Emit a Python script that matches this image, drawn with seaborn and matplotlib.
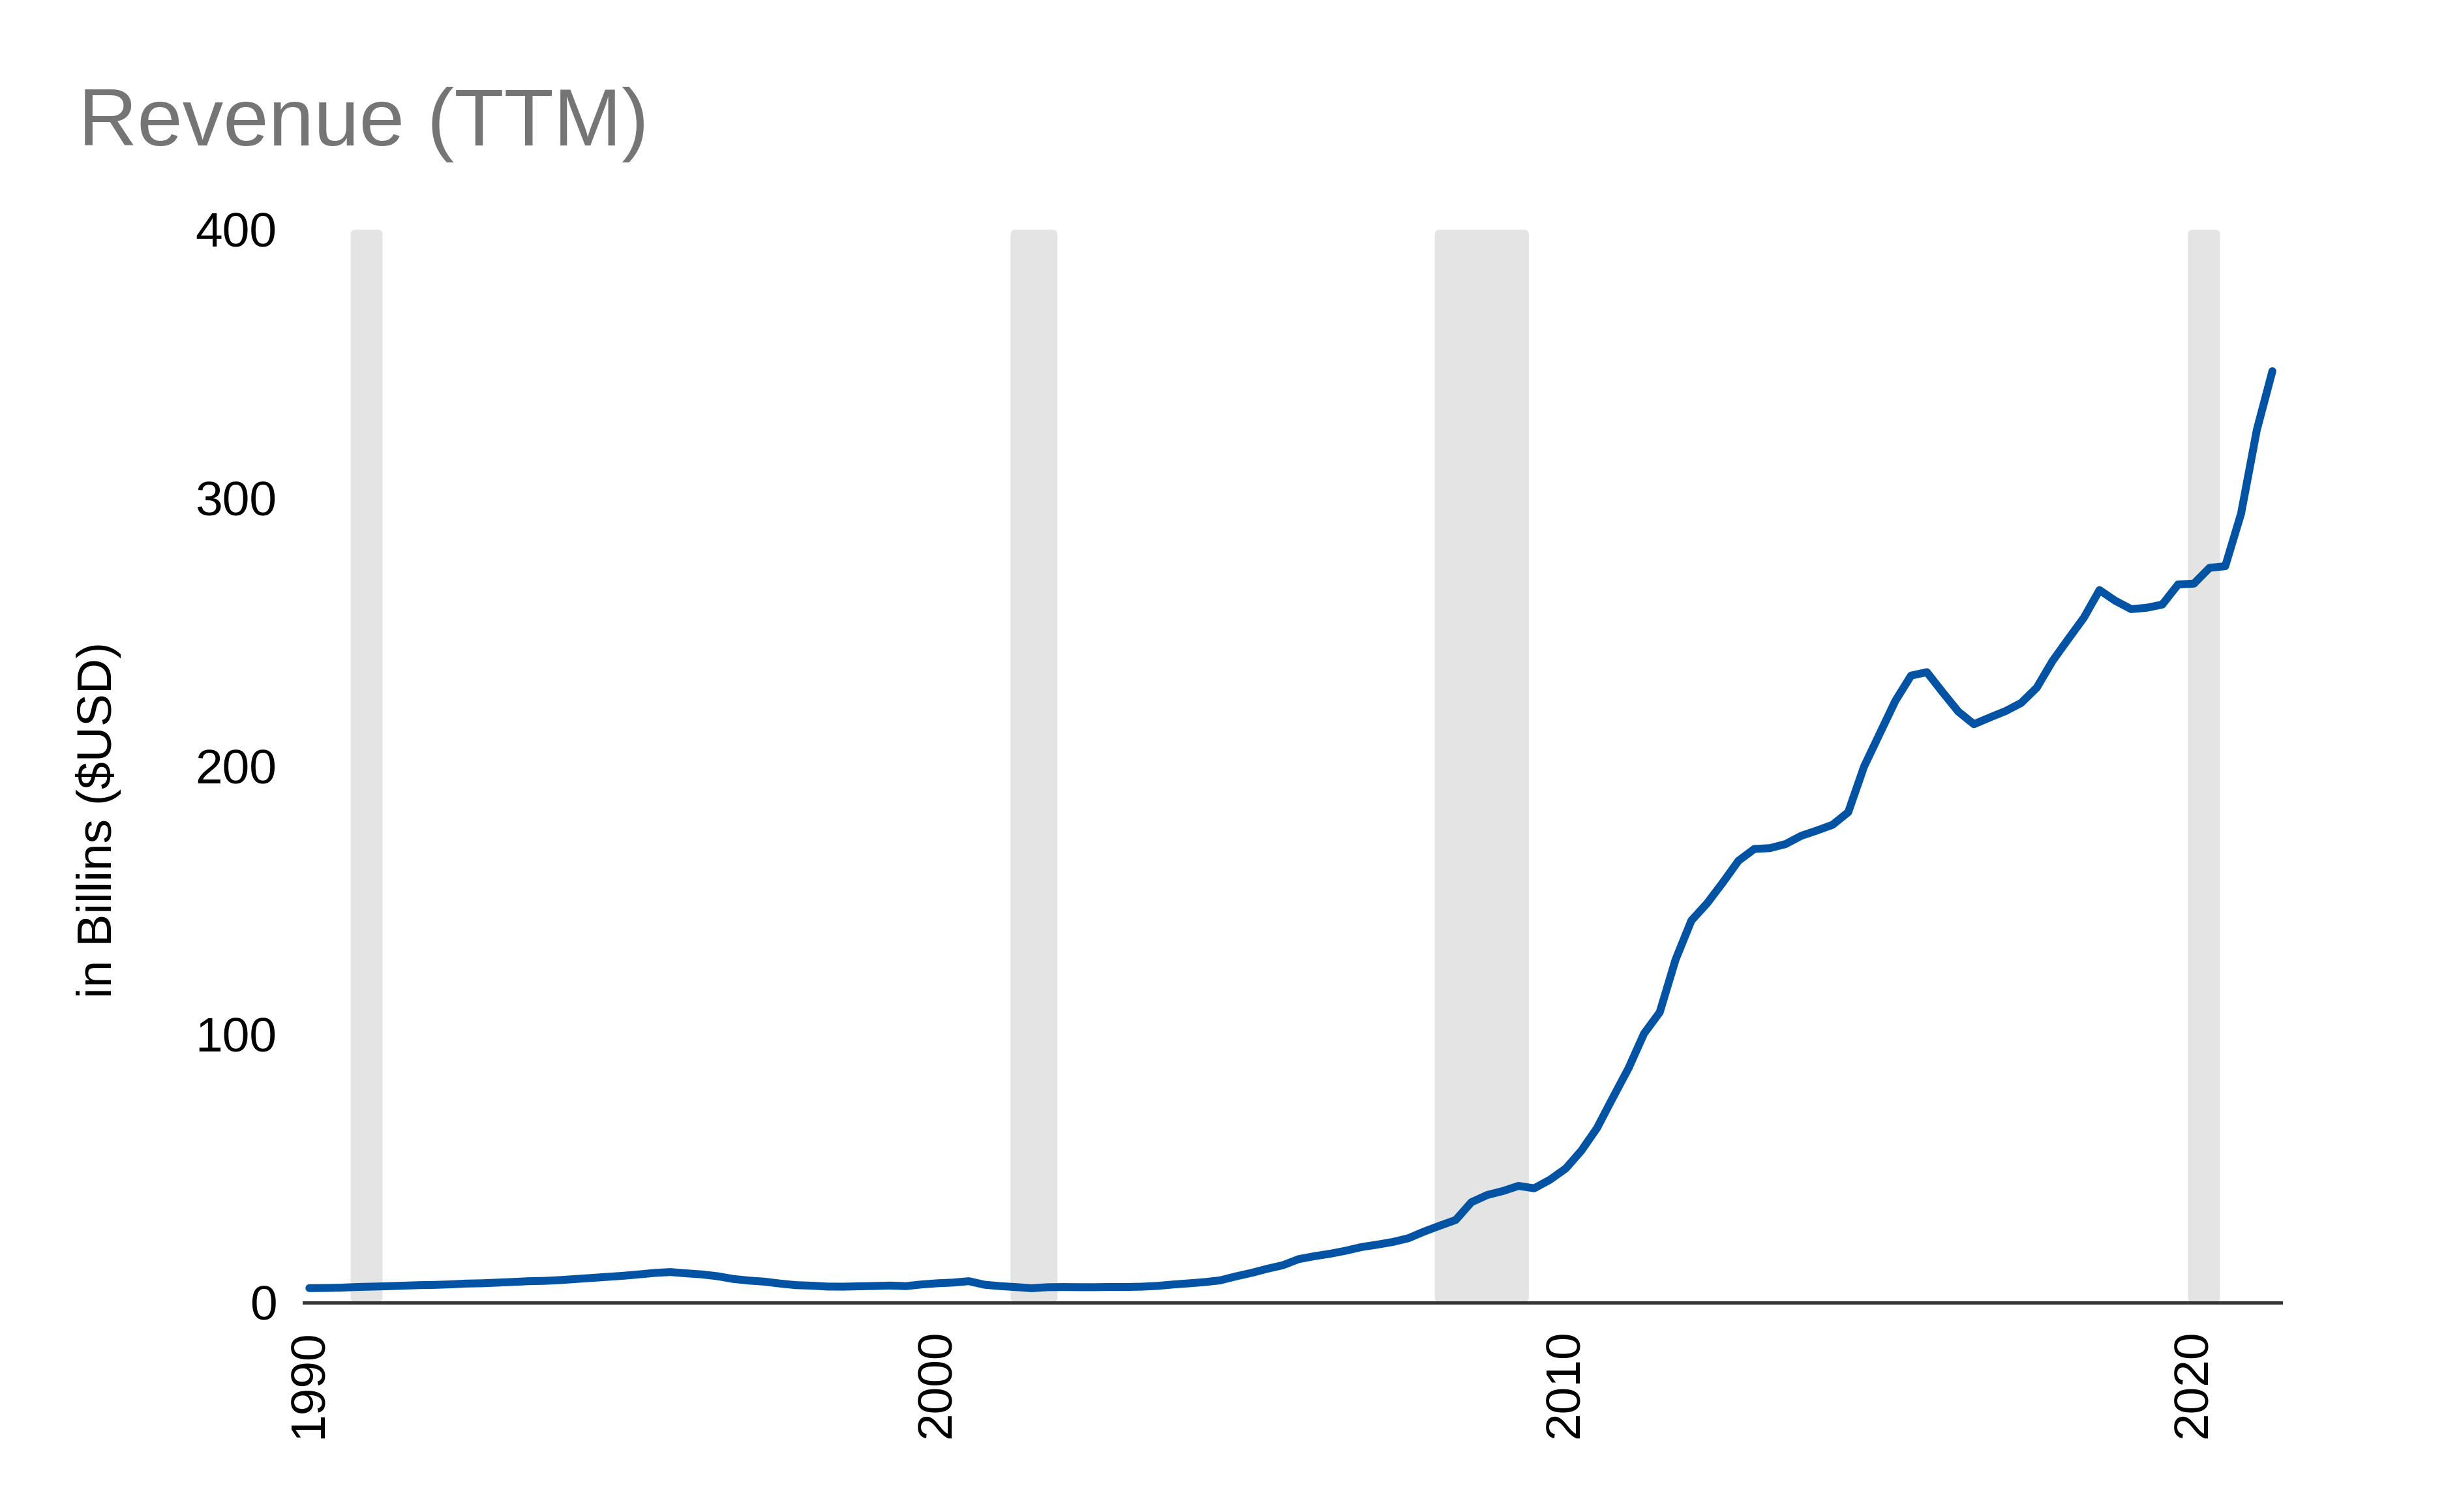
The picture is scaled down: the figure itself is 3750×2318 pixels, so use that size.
import pandas as pd
import numpy as np
import matplotlib.pyplot as plt
import seaborn as sns
from matplotlib.patches import FancyBboxPatch
import matplotlib.dates as mdates

# Revenue TTM (billions USD), one value per quarter starting 1990-01
revenue = [
    5.4, 5.45, 5.56, 5.8,        # 1990
    5.95, 6.1, 6.31, 6.5,        # 1991
    6.6, 6.8, 7.09, 7.2,         # 1992
    7.45, 7.7, 7.98, 8.1,        # 1993
    8.4, 8.8, 9.19, 9.6,         # 1994
    10.0, 10.5, 11.06, 11.38,    # 1995
    10.9, 10.5, 9.83, 8.8,       # 1996
    8.2, 7.8, 7.08, 6.5,         # 1997
    6.3, 5.97, 5.94, 6.07,       # 1998
    6.19, 6.35, 6.13, 6.77,      # 1999
    7.2, 7.46, 7.98, 6.65,       # 2000
    6.13, 5.78, 5.36, 5.73,      # 2001
    5.8, 5.75, 5.74, 5.83,       # 2002
    5.81, 5.93, 6.21, 6.74,      # 2003
    7.17, 7.63, 8.28, 9.77,      # 2004
    11.1, 12.6, 13.93, 16.2,     # 2005
    17.3, 18.2, 19.32, 20.7,     # 2006
    21.6, 22.6, 24.0, 26.5,      # 2007
    28.7, 30.8, 37.4, 40.1,      # 2008
    41.6, 43.5, 42.6, 45.8,      # 2009
    50.0, 56.6, 65.0, 76.3,      # 2010
    87.4, 100.3, 108.2, 127.8,   # 2011
    142.4, 148.8, 156.5, 164.7,  # 2012
    169.1, 169.4, 170.9, 174.0,  # 2013
    176.0, 178.1, 182.8, 199.8,  # 2014
    212.2, 224.3, 233.7, 235.0,  # 2015
    227.5, 220.3, 215.6, 218.1,  # 2016
    220.5, 223.5, 229.2, 239.2,  # 2017
    247.4, 255.3, 265.6, 261.6,  # 2018
    258.5, 259.0, 260.2, 267.7,  # 2019
    268.0, 273.9, 274.5, 294.1,  # 2020
    325.4, 347.2,                # 2021
]
dates = pd.date_range('1990-01-01', periods=len(revenue), freq='QS')

recession_start = ['1990-08-29', '2001-03-01', '2007-12-01', '2019-11-27']
recession_end = ['1991-03-02', '2001-11-28', '2009-05-31', '2020-06-01']

year_ticks = ['1990', '2000', '2010', '2020']

df = pd.DataFrame({'date': dates, 'revenue': revenue})

sns.set_theme(style='white')
plt.rcParams['font.family'] = ['Liberation Sans', 'DejaVu Sans']

fig = plt.figure(figsize=(12.5, 3750 / 300 * 2318 / 3750), dpi=300)
ax = fig.add_axes([0.1243, 0.1385, 0.8083, 0.7097])

ymax = 400
# recession bands with rounded corners
x_per_px = (mdates.date2num(pd.Timestamp('2021-05-22')) - mdates.date2num(pd.Timestamp('1989-12-01'))) / 3031
y_per_px = ymax / 1645
for s, e in zip(recession_start, recession_end):
    x0 = mdates.date2num(pd.Timestamp(s))
    x1 = mdates.date2num(pd.Timestamp(e))
    band = FancyBboxPatch((x0, 0), x1 - x0, ymax,
                          boxstyle=f'round,pad=0,rounding_size={8 * x_per_px}',
                          mutation_aspect=y_per_px / x_per_px,
                          facecolor='#e4e4e4', edgecolor='none', zorder=0)
    ax.add_patch(band)

sns.lineplot(data=df, x='date', y='revenue', ax=ax, color='#0353a4', linewidth=2.9, zorder=3)

ax.set_xlim(pd.Timestamp('1989-12-01'), pd.Timestamp('2021-05-22'))
ax.set_ylim(0, ymax)
ax.set_yticks([0, 100, 200, 300, 400])
ax.set_xticks([pd.Timestamp(y + '-01-01') for y in year_ticks])
ax.set_xticklabels(year_ticks, rotation=90)
ax.tick_params(axis='both', length=0, pad=10, labelsize=18, labelcolor='black')

for side in ['top', 'right', 'left']:
    ax.spines[side].set_visible(False)
ax.spines['bottom'].set_color('#333333')
ax.spines['bottom'].set_linewidth(1.2)
ax.spines['bottom'].set_zorder(4)

ax.set_xlabel('')
ax.set_ylabel('in Billins ($USD)', fontsize=18, color='black')
ax.yaxis.set_label_coords(-0.0924, 0.45)

fig.text(0.032, 0.904, 'Revenue (TTM)', fontsize=30, color='#757575', va='baseline')

fig.savefig('out.png', dpi=300)
